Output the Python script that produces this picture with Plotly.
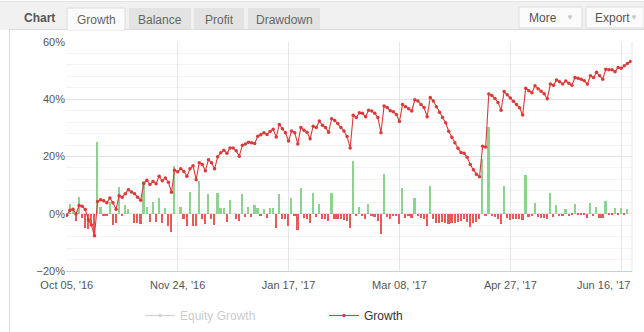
import plotly.graph_objects as go

# ---- data -------------------------------------------------------------
tick_labels = ["Oct 05, '16", "Nov 24, '16", "Jan 17, '17",
               "Mar 08, '17", "Apr 27, '17", "Jun 16, '17"]
points_per_label = 36

# cumulative growth, % (one value per point)
growth = [
    -0.5, 1.2, 1.6, -0.1, 2.9, 2.6, 1.5, -2.1, -3.9, -7.7,
    4.3, 4.9, 4.5, 3.8, 5.5, 3.8, 1.6, 6.3, 5.8, 7.0,
    8.4, 7.6, 7.0, 5.8, 4.7, 10.6, 11.7, 10.2, 11.3, 10.5,
    13.1, 11.5, 12.5, 11.0, 7.5, 15.2, 14.7, 15.7, 14.8, 13.1,
    15.7, 16.8, 11.9, 17.8, 17.2, 15.0, 18.9, 17.8, 15.7, 19.9,
    21.3, 22.2, 21.1, 23.0, 23.0, 22.0, 20.1, 23.9, 24.4, 25.0,
    24.8, 24.5, 27.1, 27.6, 28.3, 27.7, 28.7, 29.5, 26.8, 31.2,
    29.7, 28.3, 25.4, 28.9, 28.3, 24.4, 30.1, 29.2, 28.5, 26.2,
    30.6, 30.1, 32.4, 30.9, 30.1, 28.5, 33.2, 32.6, 31.5, 30.1,
    28.9, 27.0, 23.0, 34.4, 33.6, 35.3, 35.1, 33.9, 36.2, 35.9,
    35.1, 33.6, 28.3, 37.6, 37.1, 36.0, 35.6, 34.7, 32.2, 38.2,
    37.4, 36.7, 35.9, 39.8, 39.4, 38.2, 37.1, 33.9, 40.6, 39.4,
    37.4, 35.5, 33.6, 31.8, 28.8, 26.7, 24.8, 22.9, 21.4, 21.1,
    19.7, 17.2, 15.4, 13.8, 12.9, 23.6, 23.3, 41.8, 41.3, 40.3,
    38.9, 36.2, 42.7, 41.6, 40.4, 39.3, 38.2, 37.0, 34.5, 43.8,
    43.0, 42.3, 44.7, 43.7, 42.8, 41.9, 40.2, 45.3, 44.9, 46.7,
    46.1, 45.3, 46.4, 45.6, 44.9, 47.6, 47.3, 47.0, 46.5, 45.3,
    48.2, 47.6, 49.4, 48.2, 47.0, 50.5, 50.3, 50.3, 49.6, 51.1,
    50.8, 51.7, 52.5, 53.2,
]

# growth of each single point, % (bars)
daily = [
    0.0, 3.3, 1.0, -2.6, 6.0, -1.4, -4.9, -5.3, -3.7, -7.6,
    24.9, 2.2, -0.8, -0.8, 4.2, -4.1, -3.2, 9.5, -0.8, 3.0,
    1.5, 0.0, -3.2, -3.2, -3.7, 11.5, 2.3, -2.9, 4.2, -2.9,
    5.6, -3.2, 2.1, -4.3, -6.4, 16.6, 0.0, 2.5, -2.0, -4.3,
    7.7, -4.3, -4.3, 11.3, -2.0, -3.7, 7.0, -2.0, -4.0, 7.4,
    2.1, 2.1, -2.9, 4.7, 0.0, -2.0, -2.6, 6.8, -1.1, 2.5,
    -1.1, 3.2, 2.1, -0.8, 1.8, -1.4, 2.0, 2.1, -4.9, 7.0,
    -2.0, -2.0, -4.3, 5.6, -0.8, -5.7, 9.1, -1.4, -2.0, -3.2,
    7.4, -1.1, 3.5, -1.8, -2.0, -2.6, 7.4, -1.8, -2.0, -2.0,
    -2.2, -2.6, -5.0, 18.4, -0.8, 2.5, -0.8, -1.8, 3.5, -0.8,
    -1.1, -2.6, -6.9, 14.0, -1.1, -1.8, -0.8, -0.8, -3.5, 9.1,
    -1.4, -0.8, -1.4, 5.6, -0.8, -1.4, -1.8, -4.3, 9.7, -2.0,
    -3.4, -3.2, -2.9, -3.4, -3.7, -3.2, -3.2, -2.9, -2.6, -2.0,
    -2.9, -4.6, -3.4, -2.9, -1.7, 19.3, -0.8, 30.2, -0.8, -1.1,
    -1.8, -3.7, 9.7, -1.4, -2.2, -1.8, -2.0, -2.0, -2.2, 13.7,
    -1.1, -0.8, 3.9, -1.1, -1.4, -1.5, -1.8, 7.4, -1.2, 3.2,
    -0.8, -0.8, 1.8, -0.8, -0.6, 3.5, -0.6, -0.6, -0.4, -1.4,
    3.9, -0.8, 2.5, -1.4, -1.4, 4.4, -0.5, -0.5, 2.1, -0.5,
    2.0, -0.5, 1.8, 0.0,
]

# ---- page geometry (px) ----------------------------------------------
W, H = 644, 332
PL, PR, PT, PB = 66, 632, 42, 271


def fx(px):
    return (px - PL) / (PR - PL)


def fy(py):
    return (PB - py) / (PB - PT)


FONT = "Liberation Sans, Arial, sans-serif"
RED_LINE = "#d93a3a"
GREEN_BAR = "#8fd28f"
RED_BAR = "#e85a5a"

idx = list(range(len(growth)))
tick_vals = [i * points_per_label for i in range(len(tick_labels))]

fig = go.Figure()

fig.add_trace(go.Bar(
    x=idx, y=daily, width=0.55,
    marker=dict(color=[GREEN_BAR if v >= 0 else RED_BAR for v in daily],
                line=dict(width=0)),
    showlegend=False, hoverinfo="skip",
))

# equity series is switched off; only its legend entry is shown
fig.add_trace(go.Scatter(
    x=idx[:1], y=[None], name="<span style='color:#999'>Equity Growth</span>",
    mode="lines+markers", visible="legendonly",
    line=dict(color="#aaaaaa", width=1.2), marker=dict(size=3.5, color="#aaaaaa"),
))

fig.add_trace(go.Scatter(
    x=idx, y=growth, name="Growth", mode="lines+markers",
    line=dict(color=RED_LINE, width=1.1),
    marker=dict(size=3.5, color=RED_LINE),
))

fig.update_layout(
    template="none",
    width=W, height=H,
    margin=dict(l=PL, r=W - PR, t=PT, b=H - PB, autoexpand=False),
    paper_bgcolor="white", plot_bgcolor="white",
    font=dict(family=FONT, size=11, color="#555"),
    bargap=0,
    showlegend=True,
    legend=dict(orientation="h", xref="container", yref="container",
                x=140 / W, y=1 - 301 / H,
                xanchor="left", yanchor="top",
                entrywidth=139, entrywidthmode="pixels",
                font=dict(family=FONT, size=12, color="#333"),
                bgcolor="rgba(0,0,0,0)", itemclick=False),
)

fig.update_xaxes(
    range=[-0.25, len(growth) - 0.5], automargin=False,
    tickmode="array", tickvals=tick_vals,
    ticktext=tick_labels[:-1] + [""],
    ticklabelstandoff=4,
    showgrid=True, gridcolor="#e6e6e6", gridwidth=1,
    showline=True, linecolor="#c0d0e0", linewidth=1,
    ticks="", zeroline=False,
    tickfont=dict(family=FONT, size=11, color="#555"),
)

fig.update_yaxes(
    range=[-20, 60], automargin=False,
    tickmode="linear", tick0=0, dtick=20, ticksuffix="%",
    showgrid=True, gridcolor="#e3e3e3", gridwidth=1,
    minor=dict(dtick=4, showgrid=True, gridcolor="#f3f3f3", gridwidth=1),
    zeroline=False, showline=False, ticks="",
    tickfont=dict(family=FONT, size=11, color="#555"),
)

# last date label is justified inside the plot edge
fig.add_annotation(
    xref="paper", yref="paper", x=1.0, y=fy(276.5),
    xanchor="right", yanchor="top", showarrow=False,
    text=tick_labels[-1], font=dict(family=FONT, size=11, color="#555"),
)

# right plot border
fig.add_shape(type="line", xref="paper", yref="paper",
              x0=1, x1=1, y0=0, y1=1, line=dict(color="#e6e6e6", width=1))

# ---- header with tabs and buttons ------------------------------------
shapes = []


def rect(x0, y0, x1, y1, fill, line="rgba(0,0,0,0)", lw=0):
    shapes.append(dict(type="rect", xref="paper", yref="paper",
                       x0=fx(x0), x1=fx(x1), y0=fy(y1), y1=fy(y0),
                       fillcolor=fill, line=dict(color=line, width=lw),
                       layer="above"))


def hline(x0, x1, y, color):
    shapes.append(dict(type="line", xref="paper", yref="paper",
                       x0=fx(x0), x1=fx(x1), y0=fy(y), y1=fy(y),
                       line=dict(color=color, width=1), layer="above"))


def vline(x, y0, y1, color):
    shapes.append(dict(type="line", xref="paper", yref="paper",
                       x0=fx(x), x1=fx(x), y0=fy(y0), y1=fy(y1),
                       line=dict(color=color, width=1), layer="above"))


rect(0, 2, 644, 30, "#f1f1f1")
hline(0, 644, 1.5, "#e2e2e2")
hline(9, 644, 29.5, "#dcdcdc")
vline(9.5, 30, 332, "#dedede")

tabs = [("Growth", 67, 125), ("Balance", 129, 191),
        ("Profit", 194, 244), ("Drawdown", 248, 320)]
for k, (label, x0, x1) in enumerate(tabs):
    if k == 0:
        rect(x0, 8, x1, 30, "#fbfbfb", "#dcdcdc", 1)
        hline(x0 + 1, x1 - 1, 29.8, "#fbfbfb")
    else:
        rect(x0, 8, x1, 29, "#e3e3e3")

rect(519, 7, 582, 28, "#fbfbfb", "#dddddd", 1)
rect(586, 7, 644, 28, "#fbfbfb", "#dddddd", 1)

fig.update_layout(shapes=list(fig.layout.shapes) + shapes)

ann = []


def label(text, x, y, size=12, color="#666", anchor="center", bold=False):
    t = f"<b>{text}</b>" if bold else text
    ann.append(dict(xref="paper", yref="paper", x=fx(x), y=fy(y),
                    xanchor=anchor, yanchor="middle", showarrow=False,
                    text=t, font=dict(family=FONT, size=size, color=color)))


label("Chart", 22, 18.5, size=12, color="#555", anchor="left", bold=True)
for k, (lab, x0, x1) in enumerate(tabs):
    label(lab, (x0 + x1) / 2, 19.5, size=12, color="#666")
label("More", 543, 17.5, size=12, color="#555")
label("\u25BC", 570, 17, size=8, color="#c4c4c4")
label("Export", 612, 17.5, size=12, color="#555")
label("\u25BC", 634, 17, size=8, color="#c4c4c4")

for a in ann:
    fig.add_annotation(**a)

fig.write_html("out.html")
